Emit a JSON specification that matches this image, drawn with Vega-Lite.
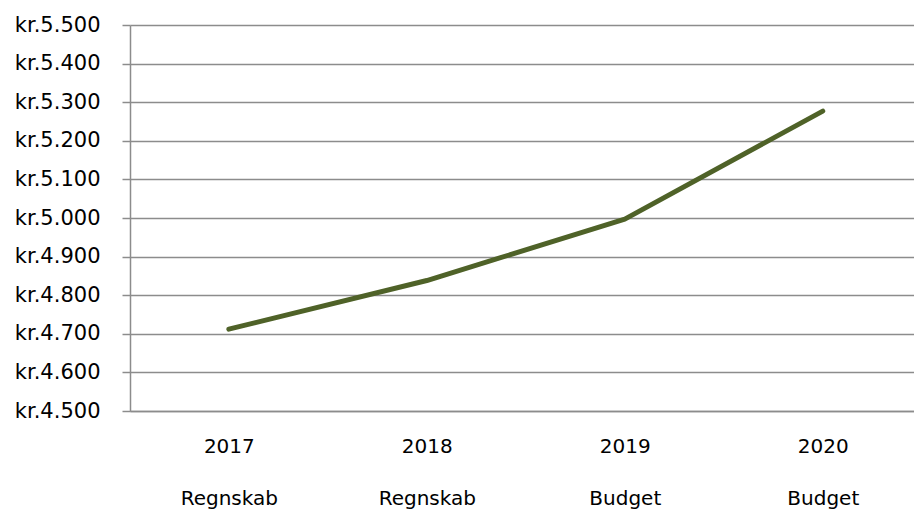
{
  "$schema": "https://vega.github.io/schema/vega-lite/v6.json",
  "width": 784,
  "height": 386,
  "autosize": {"type": "none"},
  "padding": {"left": 130, "top": 25, "right": 0, "bottom": 98},
  "background": "white",
  "config": {"view": {"stroke": null}, "font": "DejaVu Sans"},
  "data": {
    "values": [
      {"label": "2017|Regnskab", "value": 4712},
      {"label": "2018|Regnskab", "value": 4838},
      {"label": "2019|Budget", "value": 4997},
      {"label": "2020|Budget", "value": 5277}
    ]
  },
  "mark": {"type": "line", "color": "#4F6228", "strokeWidth": 5, "strokeCap": "round", "strokeJoin": "round"},
  "encoding": {
    "x": {
      "field": "label",
      "type": "nominal",
      "sort": null,
      "scale": {"type": "point", "padding": 0.48, "align": 0.52},
      "axis": {
        "title": null,
        "labelAngle": 0,
        "labelExpr": "split(datum.label, '|')",
        "labelLineHeight": 52,
        "labelFontSize": 20,
        "labelColor": "#000000",
        "labelFont": "DejaVu Sans",
        "labelBaseline": "top",
        "labelPadding": 25,
        "ticks": false,
        "domainColor": "#8c8c8c",
        "domainWidth": 1.5,
        "grid": false
      }
    },
    "y": {
      "field": "value",
      "type": "quantitative",
      "scale": {"domain": [4500, 5500], "nice": false, "zero": false},
      "axis": {
        "title": null,
        "values": [4500, 4600, 4700, 4800, 4900, 5000, 5100, 5200, 5300, 5400, 5500],
        "labelExpr": "'kr.' + replace(format(datum.value, ','), ',', '.')",
        "labelFontSize": 21,
        "labelColor": "#000000",
        "labelFont": "DejaVu Sans",
        "labelPadding": 22,
        "tickSize": 8,
        "tickColor": "#8c8c8c",
        "tickWidth": 1.5,
        "domainColor": "#8c8c8c",
        "domainWidth": 1.5,
        "gridColor": "#8c8c8c",
        "gridWidth": 1.5,
        "gridOpacity": 1
      }
    }
  }
}
